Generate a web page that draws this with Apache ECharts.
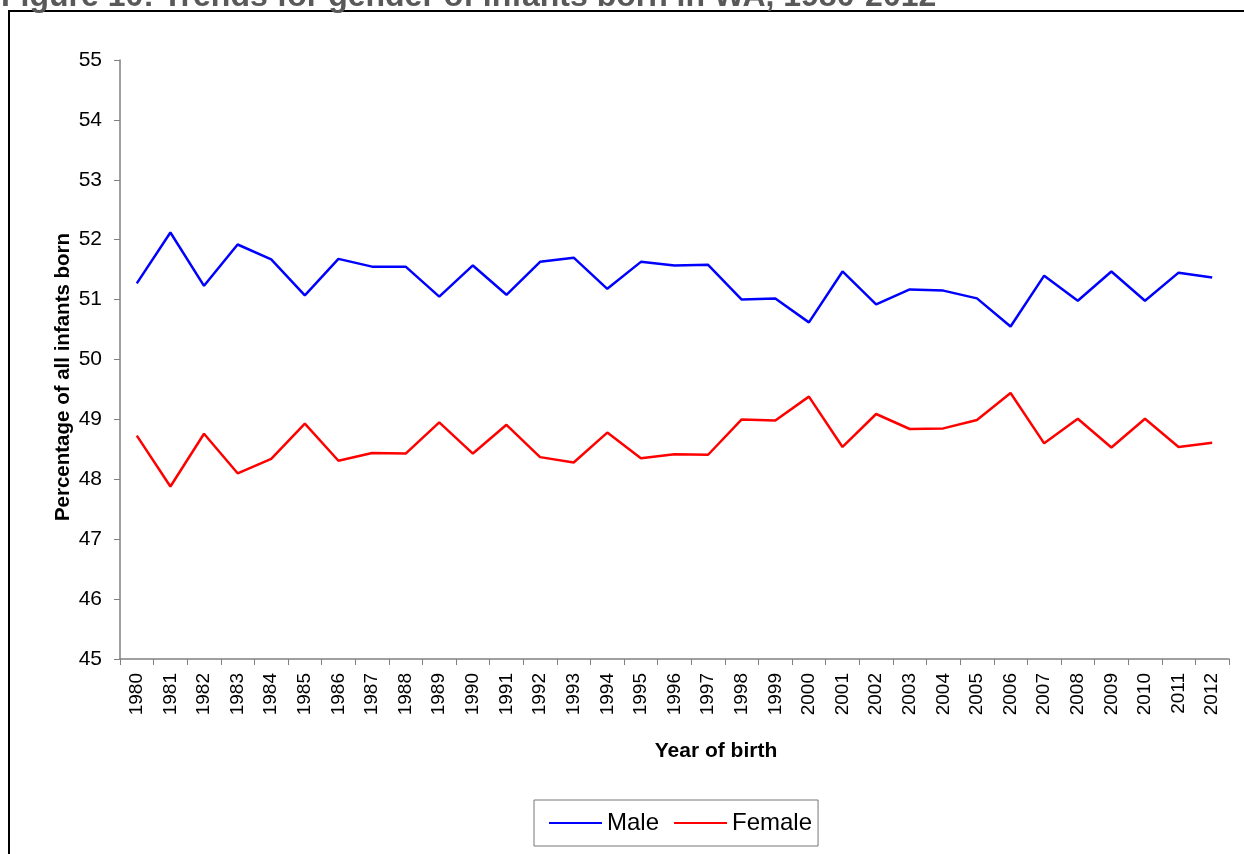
<!DOCTYPE html>
<html>
<head>
<meta charset="utf-8">
<title>Trends for gender of infants born in WA, 1980-2012</title>
<script src="https://cdn.jsdelivr.net/npm/echarts@6/dist/echarts.min.js"></script>
<style>
  html, body { margin: 0; padding: 0; background: #fff; }
  #chart { width: 1244px; height: 854px; }
</style>
</head>
<body>
<div id="chart"></div>
<script>
// data
const years = ['1980', '1981', '1982', '1983', '1984', '1985', '1986', '1987', '1988', '1989',
    '1990', '1991', '1992', '1993', '1994', '1995', '1996', '1997', '1998', '1999',
    '2000', '2001', '2002', '2003', '2004', '2005', '2006', '2007', '2008', '2009',
    '2010', '2011', '2012'];

const male = [51.27, 52.12, 51.23, 51.92, 51.67, 51.07, 51.68, 51.55, 51.55, 51.05,
    51.57, 51.08, 51.63, 51.70, 51.18, 51.63, 51.57, 51.58, 51.00, 51.02,
    50.62, 51.47, 50.92, 51.17, 51.15, 51.02, 50.55, 51.40, 50.98, 51.47,
    50.98, 51.45, 51.37];

const female = [48.73, 47.88, 48.76, 48.10, 48.34, 48.93, 48.31, 48.44, 48.43, 48.95,
    48.43, 48.91, 48.37, 48.28, 48.78, 48.35, 48.42, 48.41, 49.00, 48.98,
    49.38, 48.54, 49.09, 48.84, 48.85, 48.99, 49.44, 48.60, 49.01, 48.53,
    49.01, 48.54, 48.61];

const FONT = 'Arial, "Liberation Sans", sans-serif';
const AXIS_GREY = '#808080';

document.addEventListener('DOMContentLoaded', function() {
    const chart = echarts.init(document.getElementById('chart'));

    const option = {
        animation: false,
        textStyle: { fontFamily: FONT },
        graphic: [
            {
                // frame round the figure
                type: 'rect',
                shape: { x: 9, y: 11, width: 1300, height: 900 },
                style: { fill: 'none', stroke: '#000', lineWidth: 2 },
                silent: true
            },
            {
                // title, cut off at the top edge like the original
                type: 'text',
                x: 1,
                y: 13,
                style: {
                    text: 'Figure 10: Trends for gender of infants born in WA, 1980-2012',
                    font: 'bold 32px ' + FONT,
                    fill: '#595959',
                    verticalAlign: 'bottom'
                },
                silent: true
            },
            {
                type: 'text',
                x: 716,
                y: 751,
                style: {
                    text: 'Year of birth',
                    font: 'bold 21px ' + FONT,
                    fill: '#000',
                    align: 'center',
                    verticalAlign: 'middle'
                },
                silent: true
            },
            {
                type: 'text',
                x: 63,
                y: 377,
                rotation: Math.PI / 2,
                style: {
                    text: 'Percentage of all infants born',
                    font: 'bold 20.5px ' + FONT,
                    fill: '#000',
                    align: 'center',
                    verticalAlign: 'middle'
                },
                silent: true
            }
        ],
        grid: {
            left: 120,
            right: 15,
            top: 60,
            bottom: 195
        },
        legend: {
            left: 534,
            top: 800,
            padding: [11, 6, 11, 15],
            itemGap: 15,
            itemWidth: 53,
            itemHeight: 2,
            icon: 'rect',
            borderColor: '#777',
            borderWidth: 1,
            textStyle: { fontSize: 24, color: '#000', fontFamily: FONT },
            data: ['Male', 'Female']
        },
        xAxis: {
            type: 'category',
            data: years,
            boundaryGap: true,
            axisLine: { lineStyle: { color: AXIS_GREY, width: 1.5 } },
            axisTick: { show: true, length: 6, interval: 0, lineStyle: { color: AXIS_GREY } },
            axisLabel: {
                interval: 0,
                rotate: 90,
                margin: 14,
                fontSize: 19,
                color: '#000',
                fontFamily: FONT
            },
            splitLine: { show: false }
        },
        yAxis: {
            type: 'value',
            min: 45,
            max: 55,
            interval: 1,
            axisLine: { show: true, lineStyle: { color: AXIS_GREY, width: 1.5 } },
            axisTick: { show: true, length: 6, lineStyle: { color: AXIS_GREY } },
            axisLabel: {
                margin: 18,
                fontSize: 21,
                color: '#000',
                fontFamily: FONT
            },
            splitLine: { show: false }
        },
        series: [
            {
                name: 'Male',
                type: 'line',
                data: male,
                symbol: 'none',
                itemStyle: { color: '#0000ff' },
                lineStyle: { color: '#0000ff', width: 2.5 }
            },
            {
                name: 'Female',
                type: 'line',
                data: female,
                symbol: 'none',
                itemStyle: { color: '#ff0000' },
                lineStyle: { color: '#ff0000', width: 2.5 }
            }
        ]
    };

    chart.setOption(option);
});
</script>
</body>
</html>
